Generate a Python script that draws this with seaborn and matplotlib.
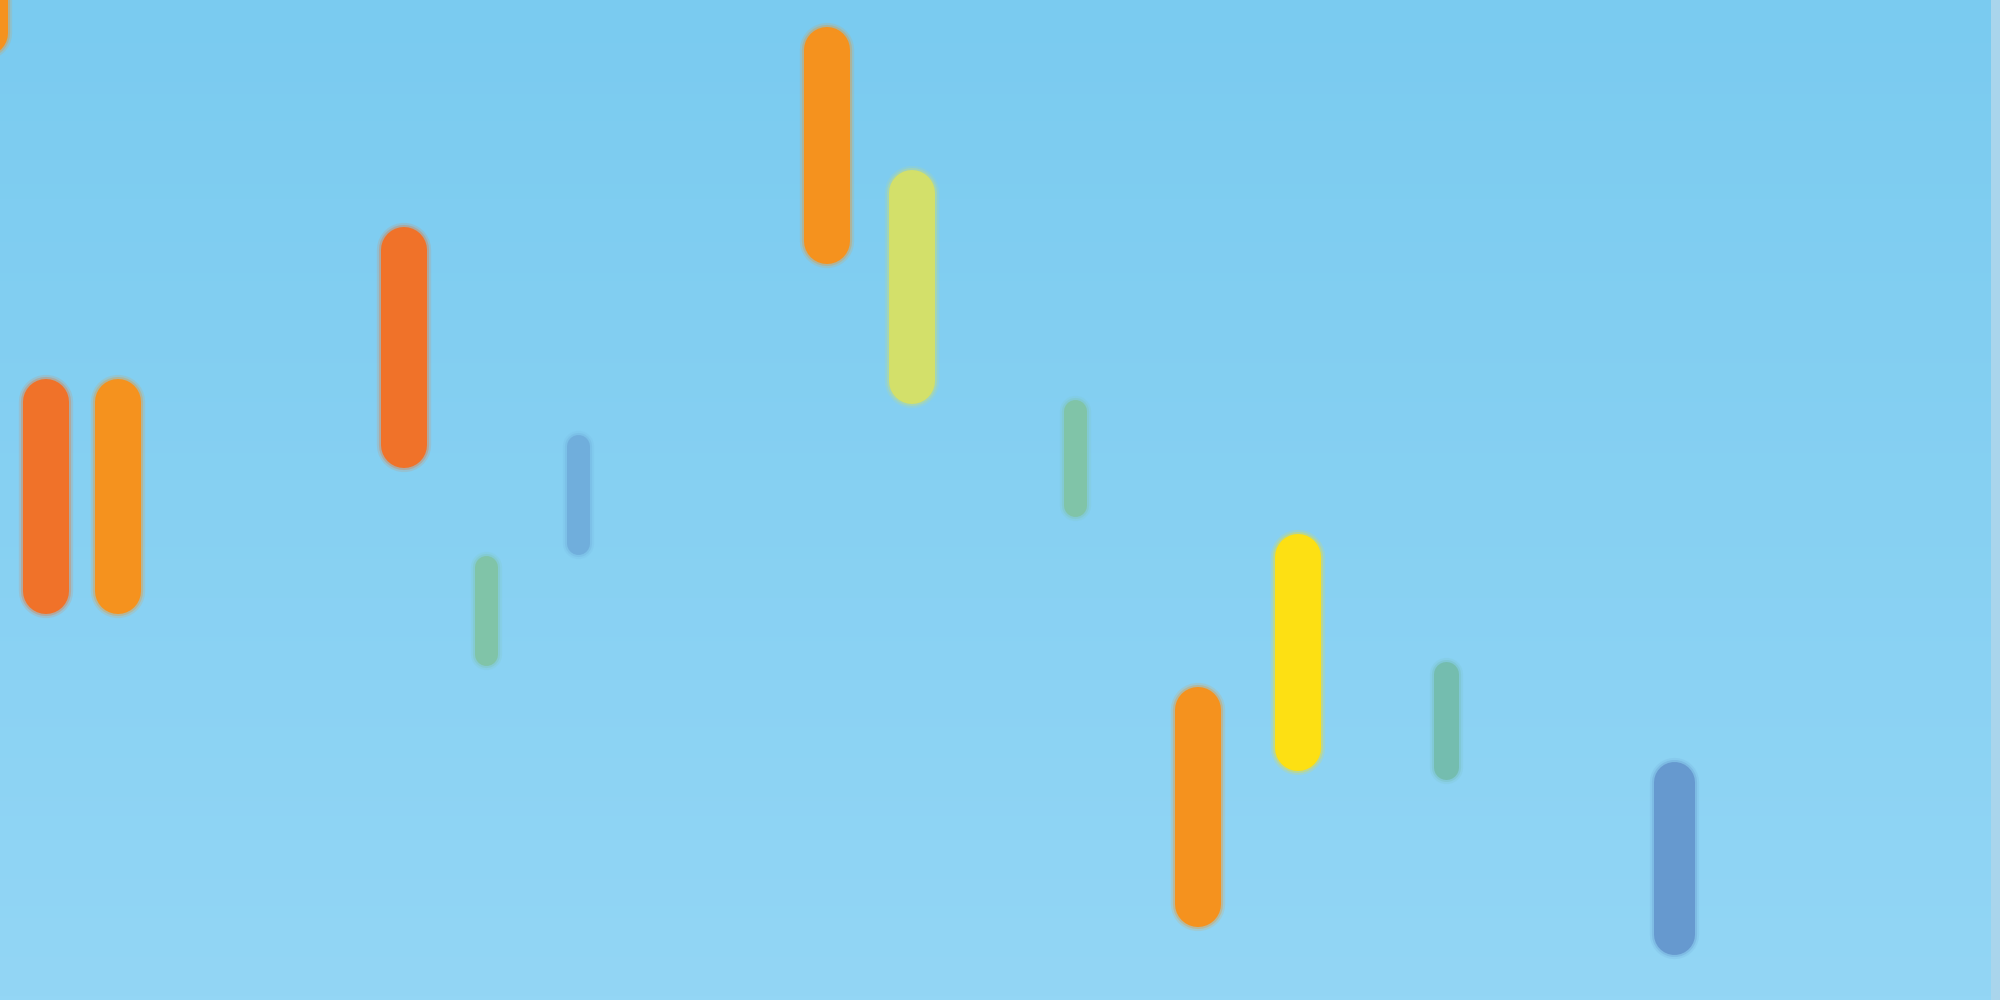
import numpy as np
import pandas as pd
import matplotlib
matplotlib.use("Agg")
import matplotlib.pyplot as plt
import seaborn as sns

# ---- data ----
positions = [-15, 46, 118, 404, 486, 578, 827, 912, 1075, 1198, 1298, 1446, 1674]
highs     = [1040, 598, 598, 750, 433, 554, 950, 807, 589, 290, 443, 326, 218]
lows      = [967, 409, 409, 555, 346, 457, 759, 619, 495, 96, 252, 233, 66]
series    = ["orange", "red", "orange", "red", "green", "sky", "orange",
             "lime", "green", "orange", "yellow", "teal", "blue"]

# ---- style ----
palette = {
    "red": "#F07229",
    "orange": "#F5921E",
    "lime": "#D3E06A",
    "yellow": "#FDE013",
    "green": "#80C4A8",
    "sky": "#70AEDC",
    "teal": "#74BDAF",
    "blue": "#6699CF",
}
widths_px = {"red": 46, "orange": 46, "lime": 46, "yellow": 46,
             "green": 23, "sky": 23, "teal": 25, "blue": 41}

df = pd.DataFrame({"x": positions, "high": highs, "low": lows, "series": series})

sns.set_theme(style="white")
fig = plt.figure(figsize=(20, 10), dpi=100)
ax = fig.add_axes([0, 0, 1, 1])
ax.set_xlim(0, 2000)
ax.set_ylim(0, 1000)
ax.set_axis_off()

# background gradient
top = np.array([122, 203, 240]) / 255
bot = np.array([147, 214, 245]) / 255
t = np.linspace(0, 1, 256)[:, None]
grad = (top[None, :] * (1 - t) + bot[None, :] * t)[:, None, :]
ax.imshow(grad, extent=[0, 2000, 0, 1000], aspect="auto", zorder=0)
ax.axvspan(1991, 2000, color="#A9D5EC", zorder=1, lw=0)

for _, r in df.iterrows():
    lw = widths_px[r["series"]] * 0.72
    col = palette[r["series"]]
    # soft halo to imitate blur
    for extra, a in ((6, 0.15), (3, 0.3)):
        ax.vlines(r["x"], r["low"], r["high"], colors=col, facecolors=col,
                  linewidths=lw + extra, alpha=a, capstyle="round", zorder=2,
                  clip_on=False)
    ax.vlines(r["x"], r["low"], r["high"], colors=col, facecolors=col,
              linewidths=lw, capstyle="round", zorder=3, clip_on=False)

fig.savefig("out.png", dpi=100)
